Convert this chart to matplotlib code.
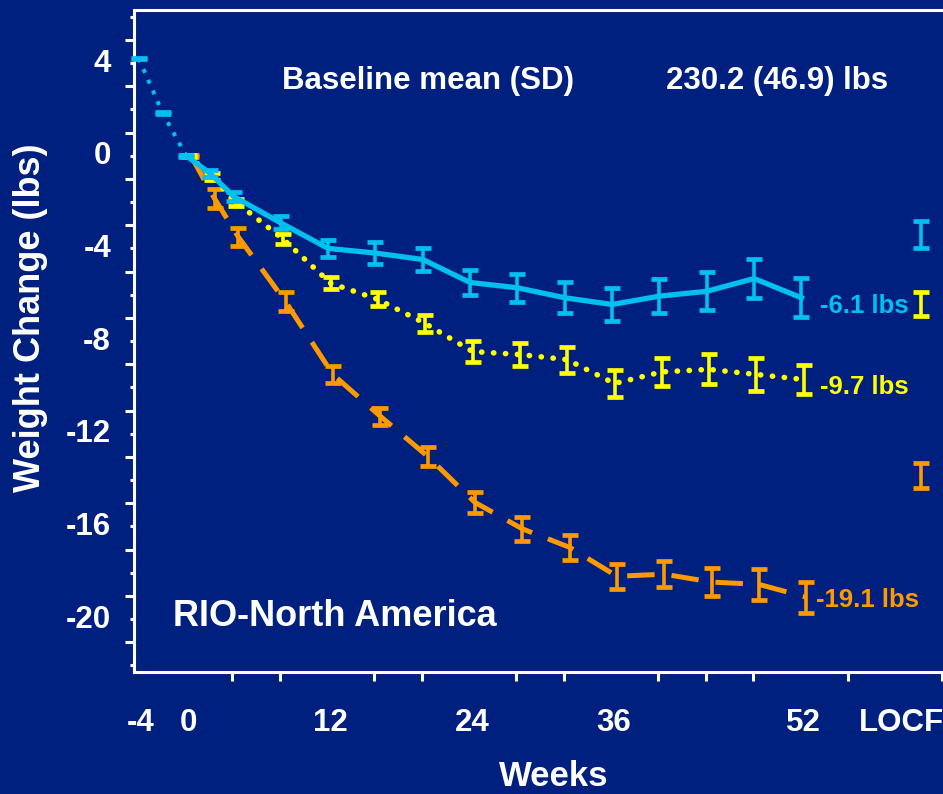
import numpy as np
import matplotlib.pyplot as plt
from matplotlib.transforms import ScaledTranslation

plt.rcParams["font.family"] = ["Liberation Sans", "DejaVu Sans"]
plt.rcParams["font.weight"] = "bold"

# weight change (lbs) by week
weeks = [0, 2, 4, 8, 12, 16, 20, 24, 28, 32, 36, 40, 44, 48, 52]

placebo = [0.0, -0.75, -1.75, -2.9, -4.0, -4.2, -4.48, -5.47, -5.7, -6.13, -6.42, -6.06, -5.85, -5.3, -6.13]
placebo_err = [0.05, 0.15, 0.2, 0.28, 0.37, 0.48, 0.5, 0.56, 0.6, 0.67, 0.7, 0.73, 0.82, 0.86, 0.85]

rimo5 = [0.0, -0.9, -2.0, -3.6, -5.5, -6.2, -7.24, -8.45, -8.58, -8.8, -9.83, -9.33, -9.22, -9.44, -9.66]
rimo5_err = [0.05, 0.15, 0.15, 0.22, 0.26, 0.3, 0.38, 0.46, 0.5, 0.56, 0.59, 0.62, 0.65, 0.72, 0.64]

rimo20 = [0.0, -1.85, -3.5, -6.3, -9.44, -11.24, -12.97, -14.96, -16.1, -16.9, -18.15, -18.06, -18.4, -18.5, -19.05]
rimo20_err = [0.05, 0.4, 0.4, 0.42, 0.35, 0.37, 0.4, 0.45, 0.52, 0.55, 0.55, 0.57, 0.62, 0.68, 0.67]

# run-in period (all on placebo)
pre_weeks = [-4, -2, 0]
pre_change = [4.2, 1.85, 0.0]
pre_err = [0.03, 0.03, 0.03]

# LOCF endpoint: placebo, 5 mg, 20 mg
locf_mean = [-3.4, -6.4, -13.8]
locf_err = [0.57, 0.5, 0.54]

end_labels = ["-6.1 lbs", "-9.7 lbs", "-19.1 lbs"]
end_label_y = [-6.77, -10.29, -19.49]

xtick_pos = [-4, 0, 12, 24, 36, 52, 60]
xtick_labels = ["-4", "0", "12", "24", "36", "52", "LOCF"]

BG = "#00207F"
CYAN = "#00C0F0"
YELLOW = "#FFFF00"
ORANGE = "#FF9900"

fig = plt.figure(figsize=(9.43, 7.94), dpi=100, facecolor=BG)
ax = fig.add_axes([134 / 943, (794 - 671.5) / 794, (960 - 134) / 943, (671.5 - 10) / 794])
ax.set_facecolor(BG)
ax.set_xlim(-4.31, 65.5)
ax.set_ylim(-22.26, 6.29)

for s in ax.spines.values():
    s.set_color("white")
    s.set_linewidth(2.2)

eb = dict(fmt="none", elinewidth=2.6, capsize=6, capthick=3.4, clip_on=False)

# 20 mg - dashed orange
x20 = np.array(weeks) + 0.5
ax.plot(x20, rimo20, color=ORANGE, lw=3.6, linestyle=(0, (5.5, 3.4)), dash_capstyle="butt", zorder=2)
ax.errorbar(x20, rimo20, yerr=rimo20_err, ecolor=ORANGE, zorder=3, **eb)

# 5 mg - dotted yellow
x5 = np.array(weeks) + 0.3
ax.plot(x5, rimo5, color=YELLOW, lw=4.0, linestyle=(0, (0.05, 2.1)), dash_capstyle="round", zorder=4)
ax.errorbar(x5, rimo5, yerr=rimo5_err, ecolor=YELLOW, zorder=5, **eb)

# placebo - solid cyan, plus run-in dotted
xp = np.array(weeks) + 0.1
ax.plot(np.array(pre_weeks) + 0.1, pre_change, color=CYAN, lw=2.9, linestyle=(0, (1, 1.9)),
        dash_capstyle="butt", zorder=6, clip_on=False)
ax.errorbar(np.array(pre_weeks[:2]) + 0.1, pre_change[:2], yerr=pre_err[:2], ecolor=CYAN, zorder=7, **eb)
ax.plot(xp, placebo, color=CYAN, lw=3.8, solid_joinstyle="round", zorder=6)
ax.errorbar(xp, placebo, yerr=placebo_err, ecolor=CYAN, zorder=7, **eb)

# LOCF
for m, e, c in zip(locf_mean, locf_err, [CYAN, YELLOW, ORANGE]):
    ax.errorbar([62.2], [m], yerr=[e], ecolor=c, zorder=7, **eb)

# end-of-line labels
for lab, yy, c, xx in zip(end_labels, end_label_y, [CYAN, YELLOW, ORANGE], [53.68, 53.68, 53.34]):
    ax.text(xx, yy, lab, color=c, fontsize=18.5, fontweight="bold", ha="left", va="baseline")

ax.text(8.2, 2.9, "Baseline mean (SD)", color="white", fontsize=22.5, fontweight="bold",
        ha="left", va="baseline")
ax.text(40.66, 2.9, "230.2 (46.9) lbs", color="white", fontsize=22.5, fontweight="bold",
        ha="left", va="baseline")
ax.text(-1.04, -20.29, "RIO-North America", color="white", fontsize=26, fontweight="bold",
        ha="left", va="baseline")

# y ticks: short ticks on even values, long ticks on odd values, labels every 4
yt = np.arange(-22, 7, 2)
ax.set_yticks(yt)
ax.set_yticklabels([str(v) if (v % 4 == 0 and -20 <= v <= 4) else "" for v in yt])
ax.set_yticks(np.arange(-21, 7, 2), minor=True)
ax.tick_params(axis="y", which="major", length=3, width=2.2, color="white", labelcolor="white",
               labelsize=22.5, pad=13.5, direction="out")
ax.tick_params(axis="y", which="minor", length=6.8, width=2.2, color="white", direction="out")

# x ticks every 4 weeks
ax.set_xticks(xtick_pos)
ax.set_xticklabels(xtick_labels)
ax.set_xticks(np.arange(-4, 65, 4), minor=True)
ax.tick_params(axis="x", which="both", length=6.8, width=2.2, color="white", labelcolor="white",
               labelsize=22.5, pad=26, direction="out")
ax.tick_params(axis="x", which="major", length=0)

for lab in ax.get_xticklabels():
    dx = 7 if lab.get_text() == "LOCF" else 3
    lab.set_transform(lab.get_transform() + ScaledTranslation(dx / 100, 0, fig.dpi_scale_trans))
for lab in ax.get_yticklabels():
    lab.set_transform(lab.get_transform() + ScaledTranslation(0, 3 / 100, fig.dpi_scale_trans))

fig.text(31 / 943, 1 - 318 / 794, "Weight Change (lbs)", color="white", fontsize=26,
         fontweight="bold", rotation=90, ha="center", va="center")
fig.text(554 / 943, 8 / 794, "Weeks", color="white", fontsize=25, fontweight="bold",
         ha="center", va="baseline")

fig.savefig("out.png", dpi=100, facecolor=BG)
